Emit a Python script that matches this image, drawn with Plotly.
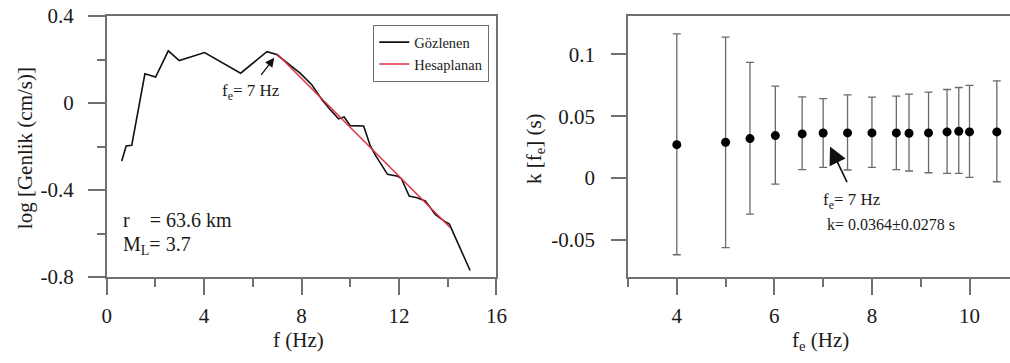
import plotly.graph_objects as go

# ---------------- data ----------------
# left panel: observed spectrum
f_obs = [0.62, 0.8, 1.03, 1.57, 2.01, 2.53, 2.98, 4.02, 5.5, 6.58, 6.98, 7.94, 8.42, 8.84,
         9.18, 9.52, 9.75, 10.0, 10.55, 10.82, 11.03, 11.53, 11.95, 12.1, 12.42, 12.74,
         13.08, 13.49, 13.84, 14.07, 14.92]
y_obs = [-0.267, -0.198, -0.194, 0.134, 0.119, 0.240, 0.195, 0.232, 0.137, 0.236, 0.223,
         0.137, 0.084, 0.015, -0.031, -0.073, -0.064, -0.104, -0.106, -0.196, -0.240,
         -0.328, -0.337, -0.348, -0.428, -0.436, -0.450, -0.512, -0.542, -0.557, -0.770]
# left panel: calculated spectrum
f_calc = [7.0, 8.0, 9.0, 10.0, 11.0, 12.0, 13.0, 14.1]
y_calc = [0.225, 0.113, 0.0, -0.113, -0.225, -0.336, -0.449, -0.572]

left_ytick_vals = [-0.8, -0.4, 0, 0.4]
left_ytick_text = ["-0.8", "-0.4", "0", "0.4"]
left_xtick_vals = [0, 4, 8, 12, 16]
left_xtick_text = ["0", "4", "8", "12", "16"]

# right panel: kappa vs fe
fe = [4.0, 5.0, 5.5, 6.02, 6.57, 7.0, 7.5, 8.0, 8.5, 8.76, 9.16, 9.54, 9.78, 10.0, 10.56]
k = [0.027, 0.0289, 0.0319, 0.0343, 0.0357, 0.0364, 0.0365, 0.0365, 0.0365, 0.0362,
     0.0365, 0.0373, 0.0378, 0.0373, 0.0373]
k_hi = [0.1165, 0.114, 0.0935, 0.0743, 0.0657, 0.0642, 0.0673, 0.0654, 0.0662, 0.0678,
        0.0695, 0.0716, 0.0732, 0.0749, 0.0786]
k_lo = [-0.062, -0.0562, -0.0292, -0.0049, 0.0068, 0.0086, 0.0065, 0.0086, 0.0068, 0.0057,
        0.0043, 0.0038, 0.0038, 0.0005, -0.003]

right_ytick_vals = [-0.05, 0, 0.05, 0.1]
right_ytick_text = ["-0.05", "0", "0.05", "0.1"]
right_xtick_vals = [4, 6, 8, 10]
right_xtick_text = ["4", "6", "8", "10"]

# ---------------- style ----------------
FONT = "Liberation Serif, Times New Roman, serif"
TXT = "#1a1a1a"
AX = "#707070"
RED = "#e03040"

fig = go.Figure()

fig.add_trace(go.Scatter(x=f_obs, y=y_obs, mode="lines", name="Gözlenen",
                         line=dict(color="#111111", width=1.6), xaxis="x", yaxis="y"))
fig.add_trace(go.Scatter(x=f_calc, y=y_calc, mode="lines", name="Hesaplanan",
                         line=dict(color=RED, width=1.5), xaxis="x", yaxis="y"))

err_plus = [h - v for h, v in zip(k_hi, k)]
err_minus = [v - l for v, l in zip(k, k_lo)]
fig.add_trace(go.Scatter(x=fe, y=k, mode="markers", showlegend=False,
                         marker=dict(color="black", size=9),
                         error_y=dict(type="data", array=err_plus, arrayminus=err_minus,
                                      color="#6a6a6a", thickness=1.3, width=4),
                         xaxis="x2", yaxis="y2"))

common_axis = dict(showgrid=False, zeroline=False, showline=True, linecolor=AX, linewidth=1.5,
                   ticks="outside", tickcolor=AX, tickwidth=1.5, automargin=False,
                   tickfont=dict(family=FONT, size=21, color=TXT))

fig.update_layout(
    width=1010, height=363,
    margin=dict(l=0, r=0, t=0, b=0, autoexpand=False),
    paper_bgcolor="white", plot_bgcolor="white",
    font=dict(family=FONT, color=TXT),
    xaxis=dict(domain=[0.1056, 0.4915], range=[0, 16], anchor="y", mirror=True,
               tickmode="array", tickvals=left_xtick_vals, ticktext=left_xtick_text,
               ticklen=16, ticklabelstandoff=3,
               minor=dict(tickmode="linear", tick0=0, dtick=2, ticklen=8, ticks="outside",
                          tickcolor=AX, tickwidth=1.5),
               **common_axis),
    yaxis=dict(domain=[0.2369, 0.9559], range=[-0.8, 0.4], anchor="x", mirror=True,
               tickmode="array", tickvals=left_ytick_vals, ticktext=left_ytick_text,
               ticklen=17, ticklabelstandoff=10,
               minor=dict(tickmode="linear", tick0=0, dtick=0.2, ticklen=8, ticks="outside",
                          tickcolor=AX, tickwidth=1.5),
               **common_axis),
    xaxis2=dict(domain=[0.6218, 1.0], range=[3, 10.83], anchor="y2", mirror=True,
                tickmode="array", tickvals=right_xtick_vals, ticktext=right_xtick_text,
                ticklen=16, ticklabelstandoff=3,
                minor=dict(tickmode="linear", tick0=0, dtick=1, ticklen=8, ticks="outside",
                           tickcolor=AX, tickwidth=1.5),
                **common_axis),
    yaxis2=dict(domain=[0.2369, 0.9559], range=[-0.08, 0.131], anchor="x2", mirror=False,
                tickmode="array", tickvals=right_ytick_vals, ticktext=right_ytick_text,
                ticklen=15, ticklabelstandoff=12,
                **common_axis),
    legend=dict(x=0.4842, xanchor="right", y=0.931, yanchor="top",
                bgcolor="white", bordercolor=AX, borderwidth=1.2,
                font=dict(family=FONT, size=14.5, color=TXT), tracegroupgap=0),
    showlegend=True,
)

ann = []
C = dict(xanchor="center", yanchor="middle", showarrow=False)
# axis titles
ann.append(dict(text="log [Genlik (cm/s)]", x=0.0248, y=0.592, xref="paper", yref="paper",
                textangle=-90, font=dict(size=21, family=FONT, color=TXT), **C))
ann.append(dict(text="f (Hz)", x=0.296, y=0.062, xref="paper", yref="paper",
                font=dict(size=21, family=FONT, color=TXT), **C))
ann.append(dict(text="k [f<sub>e</sub>] (s)", x=0.5297, y=0.592, xref="paper", yref="paper",
                textangle=-90, font=dict(size=21, family=FONT, color=TXT), **C))
ann.append(dict(text="f<sub>e</sub> (Hz)", x=0.812, y=0.06, xref="paper", yref="paper",
                font=dict(size=21, family=FONT, color=TXT), **C))
# left panel texts
L = dict(xanchor="left", yanchor="middle", showarrow=False)
ann.append(dict(text="r\u00a0\u00a0\u00a0\u00a0= 63.6 km", x=0.59, y=-0.54, xref="x", yref="y",
                font=dict(size=20, family=FONT, color=TXT), **L))
ann.append(dict(text="M<sub>L</sub>= 3.7", x=0.59, y=-0.655, xref="x", yref="y",
                font=dict(size=20, family=FONT, color=TXT), **L))
ann.append(dict(text="f<sub>e</sub>= 7 Hz", x=4.65, y=0.05, xref="x", yref="y",
                font=dict(size=17, family=FONT, color=TXT), **L))
ann.append(dict(text=" ", x=6.88, y=0.208, xref="x", yref="y", showarrow=True,
                ax=-16, ay=21, arrowhead=2, arrowsize=1.4, arrowwidth=1.3, arrowcolor="#111111"))
# right panel texts
ann.append(dict(text="f<sub>e</sub>= 7 Hz", x=6.96, y=-0.0185, xref="x2", yref="y2",
                font=dict(size=17, family=FONT, color=TXT), **L))
ann.append(dict(text="k= 0.0364±0.0278 s", x=7.04, y=-0.0377, xref="x2", yref="y2",
                font=dict(size=16, family=FONT, color=TXT), **L))
ann.append(dict(text=" ", x=7.14, y=0.0255, xref="x2", yref="y2", showarrow=True,
                ax=20, ay=42, arrowhead=2, arrowsize=2.2, arrowwidth=1.6, arrowcolor="#111111"))
fig.update_layout(annotations=ann)

fig.write_html("out.html", config={"displayModeBar": False},
               post_script="document.body.style.margin='0px';")
